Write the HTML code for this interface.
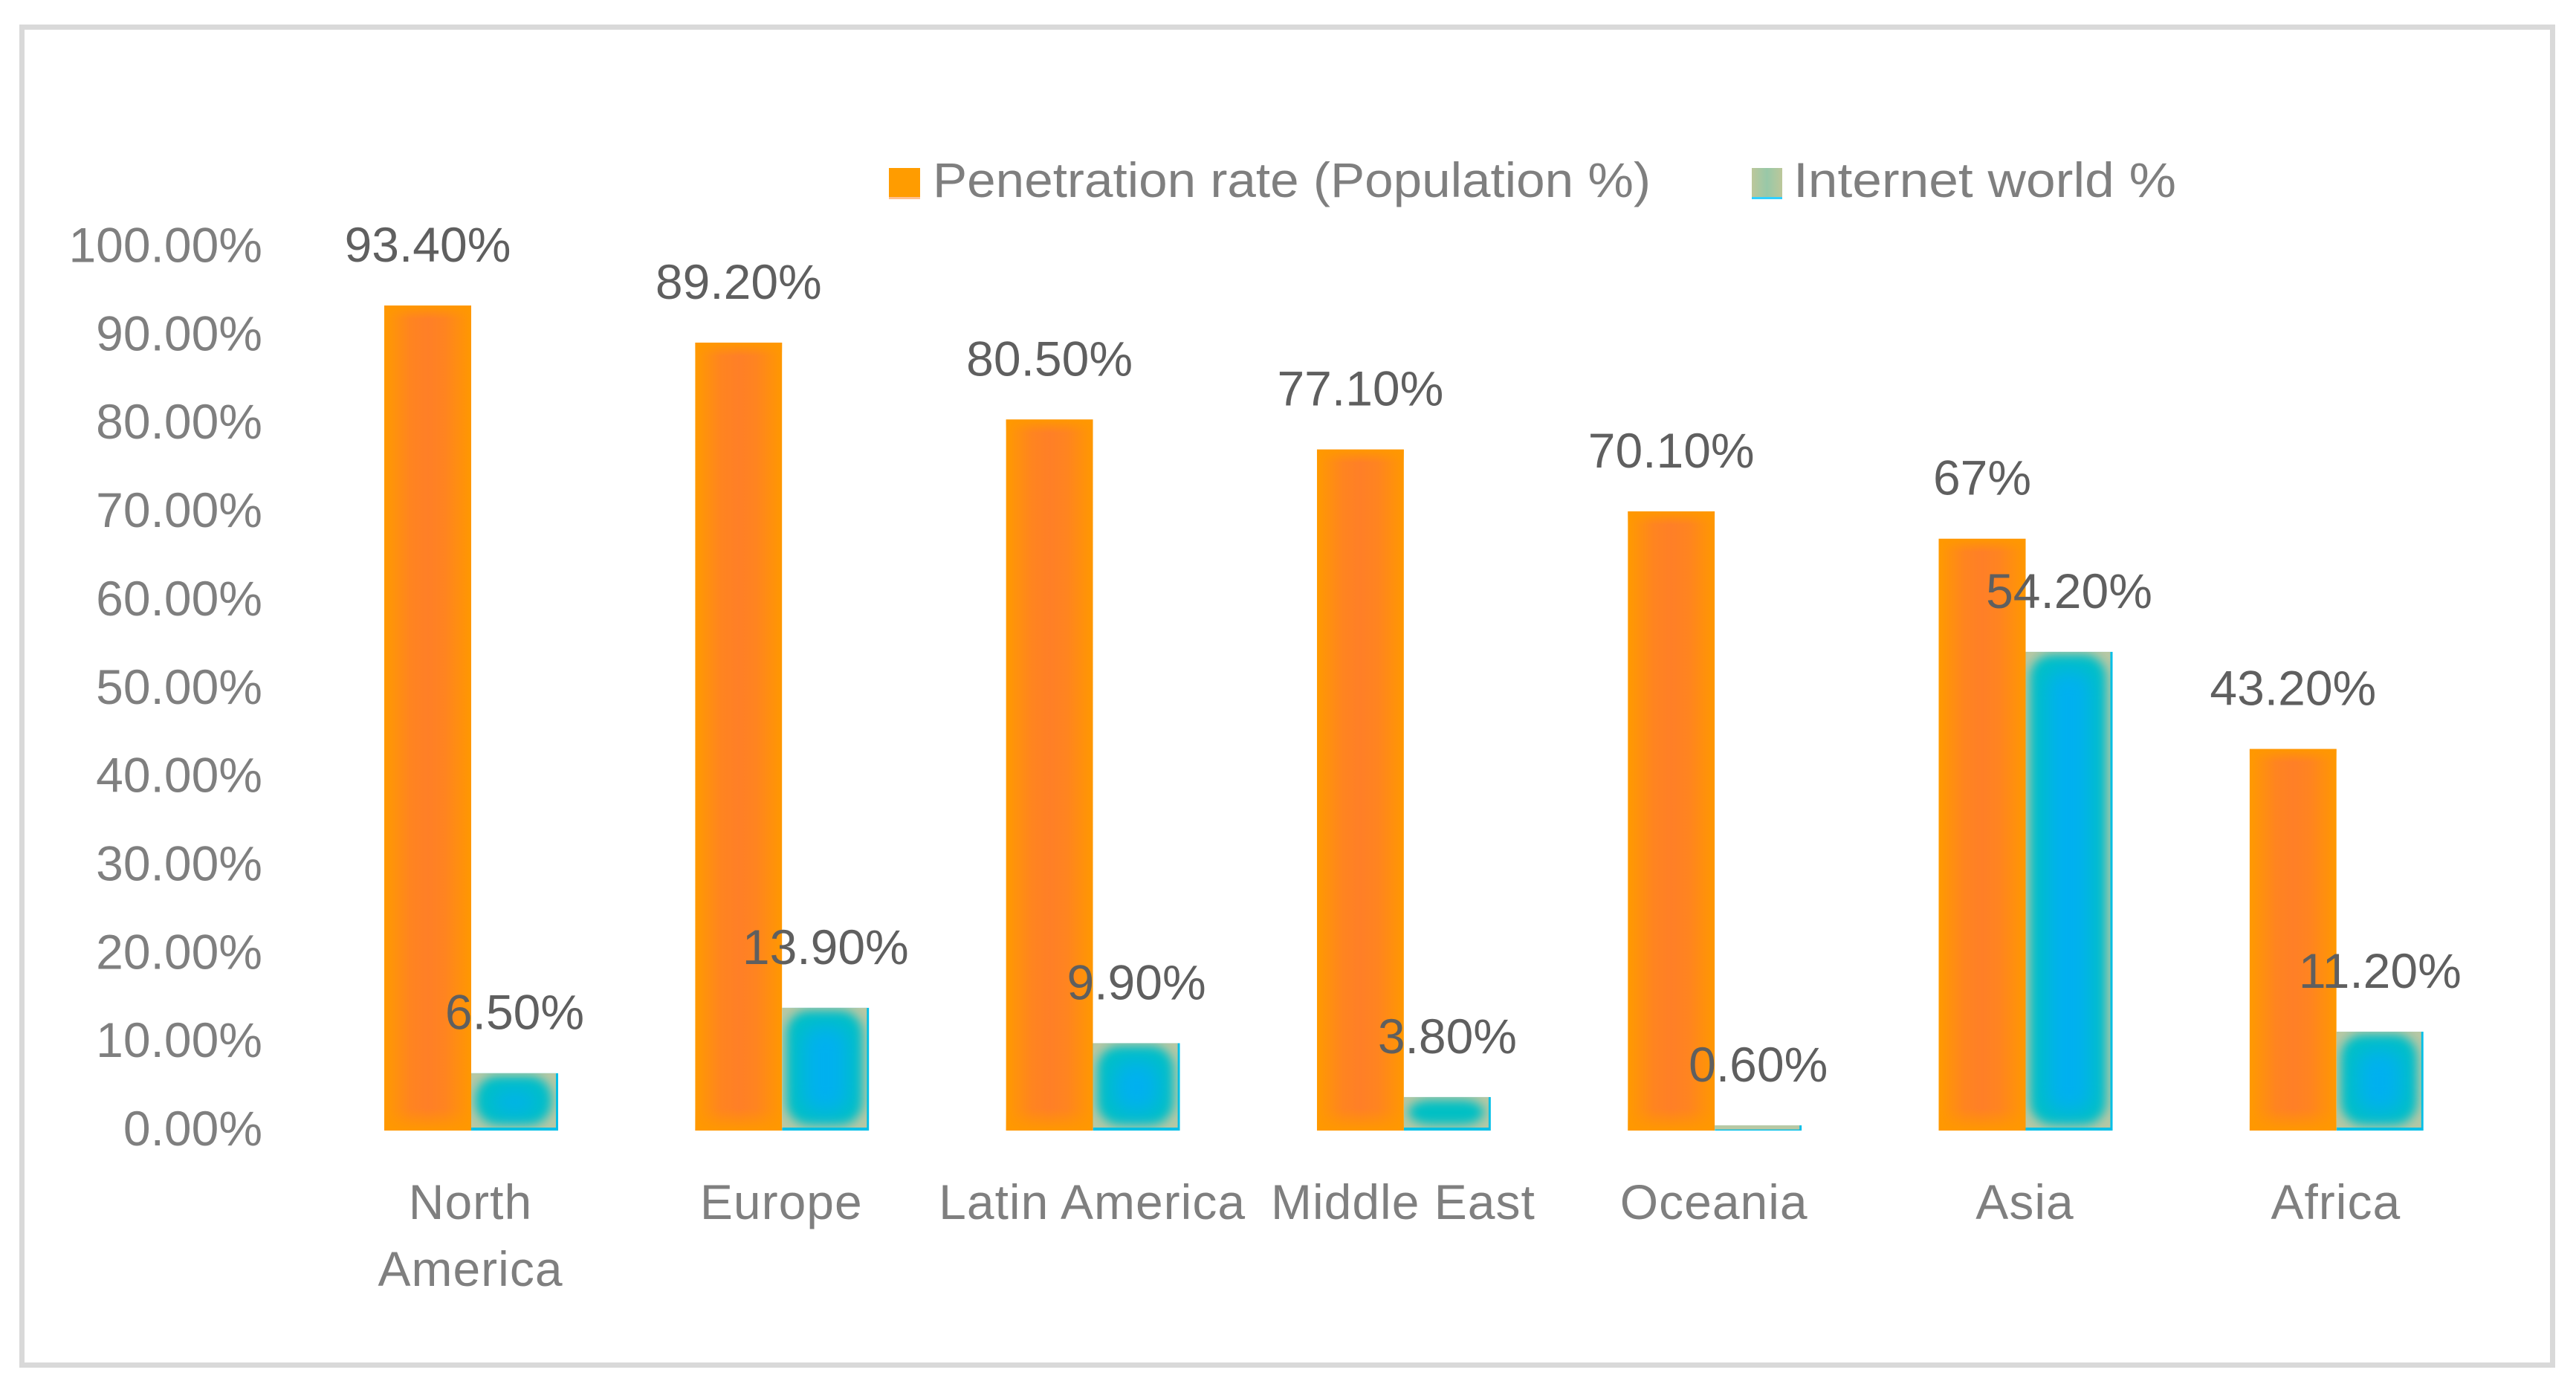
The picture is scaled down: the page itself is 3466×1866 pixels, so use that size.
<!DOCTYPE html>
<html lang="en">
<head>
<meta charset="utf-8">
<title>Internet penetration by region</title>
<style>
html,body{margin:0;padding:0;background:#fff;}
svg{display:block;font-family:"Liberation Sans",sans-serif;}
</style>
</head>
<body>
<svg id="chart" xmlns="http://www.w3.org/2000/svg" width="3466" height="1866" viewBox="0 0 3466 1866">
  <defs>
    <filter id="blur-soft" x="-60%" y="-60%" width="220%" height="220%"><feGaussianBlur stdDeviation="7"/></filter>
    <filter id="blur-wide" x="-60%" y="-60%" width="220%" height="220%"><feGaussianBlur stdDeviation="14"/></filter>
    <linearGradient id="legend-swatch-green" x1="0" y1="0" x2="1" y2="0">
      <stop offset="0" stop-color="#bcc79a"/><stop offset="0.5" stop-color="#98c8a8"/><stop offset="1" stop-color="#bcc79a"/>
    </linearGradient>
    <linearGradient id="orange-horizontal" x1="0" y1="0" x2="1" y2="0">
      <stop offset="0" stop-color="#ff9a00"/><stop offset="0.3" stop-color="#ff8420"/><stop offset="0.5" stop-color="#ff7f27"/><stop offset="0.7" stop-color="#ff8420"/><stop offset="1" stop-color="#ff9800"/>
    </linearGradient>
    <linearGradient id="orange-fade-top" x1="0" y1="0" x2="0" y2="1">
      <stop offset="0" stop-color="#ff9800"/><stop offset="1" stop-color="#ff9800" stop-opacity="0"/>
    </linearGradient>
    <linearGradient id="orange-fade-bottom" x1="0" y1="1" x2="0" y2="0">
      <stop offset="0" stop-color="#ff9800"/><stop offset="1" stop-color="#ff9800" stop-opacity="0"/>
    </linearGradient>
  </defs>
  <rect x="0" y="0" width="3466" height="1866" fill="#ffffff"/>
  <rect x="29.5" y="36.5" width="3405" height="1800" fill="none" stroke="#d9d9d9" stroke-width="7"/>

  <g>
    <g>
      <rect x="1196" y="226" width="42" height="42" fill="#ffbf8f"/>
      <rect x="1196" y="226" width="42" height="39" fill="#ff9c00"/>
      <text x="1255" y="265" font-size="66" fill="#7f7f7f" textLength="966" lengthAdjust="spacingAndGlyphs">Penetration rate (Population %)</text>
    </g>
    <g>
      <rect x="2357" y="226" width="41" height="42" fill="#30d0ff"/>
      <rect x="2357" y="226" width="41" height="39" fill="url(#legend-swatch-green)"/>
      <text x="2413" y="265" font-size="66" fill="#7f7f7f" textLength="515" lengthAdjust="spacingAndGlyphs">Internet world %</text>
    </g>
  </g>

  <g id="y-axis"></g>
  <g id="x-axis"></g>
  <g id="bars"></g>
  <g id="value-labels"></g>
</svg>
<script>
const categories = [["North", "America"], ["Europe"], ["Latin America"], ["Middle East"], ["Oceania"], ["Asia"], ["Africa"]];
const penetrationValues = [93.4, 89.2, 80.5, 77.1, 70.1, 67, 43.2];
const internetWorldValues = [6.5, 13.9, 9.9, 3.8, 0.6, 54.2, 11.2];
const penetrationLabels = ["93.40%", "89.20%", "80.50%", "77.10%", "70.10%", "67%", "43.20%"];
const internetWorldLabels = ["6.50%", "13.90%", "9.90%", "3.80%", "0.60%", "54.20%", "11.20%"];
const yTickValues = [0, 10, 20, 30, 40, 50, 60, 70, 80, 90, 100];
const yTickLabels = ["0.00%", "10.00%", "20.00%", "30.00%", "40.00%", "50.00%", "60.00%", "70.00%", "80.00%", "90.00%", "100.00%"];

const SVG_NS = "http://www.w3.org/2000/svg";
const baselineY = 1521;
const pixelsPer100 = 1188.5;
const firstCategoryX = 634;
const categoryPitch = 418.3;
const barWidth = 117;

function yScale(v) { return baselineY - v / 100 * pixelsPer100; }
function xCenter(i) { return firstCategoryX + i * categoryPitch; }

function make(tag, parent, attrs) {
  const node = document.createElementNS(SVG_NS, tag);
  for (const k in attrs) node.setAttribute(k, attrs[k]);
  parent.appendChild(node);
  return node;
}

const yAxis = document.getElementById("y-axis");
const xAxis = document.getElementById("x-axis");
const barsGroup = document.getElementById("bars");
const labelsGroup = document.getElementById("value-labels");
const defs = document.querySelector("defs");

yTickValues.forEach(function (v, i) {
  const t = make("text", yAxis, { x: 353, y: yScale(v) + 20, "font-size": 66, fill: "#7f7f7f", "text-anchor": "end" });
  
  
  t.textContent = yTickLabels[i];
});

categories.forEach(function (lines, i) {
  lines.forEach(function (line, j) {
    const t = make("text", xAxis, { x: xCenter(i) - 1, y: 1640 + j * 90, "font-size": 66, "letter-spacing": 1, fill: "#7f7f7f", "text-anchor": "middle" });
    
    
    t.textContent = line;
  });
});

function addValueLabel(text, cx, value) {
  const t = make("text", labelsGroup, { x: cx, y: yScale(value) - 59, "font-size": 66, fill: "#5f5f5f", "text-anchor": "middle" });
  
  
  t.textContent = text;
}

function addClip(id, x, y, w, h) {
  const c = make("clipPath", defs, { id: id });
  make("rect", c, { x: x, y: y, width: w, height: h });
  return "url(#" + id + ")";
}

penetrationValues.forEach(function (v, i) {
  const x = xCenter(i) - barWidth;
  const top = yScale(v);
  const h = baselineY - top;
  const g = make("g", barsGroup, { "clip-path": addClip("clip-p-" + i, x, top, barWidth, h) });
  
  
  make("rect", g, { x: x, y: top, width: barWidth, height: h, fill: "url(#orange-horizontal)" });
  make("rect", g, { x: x, y: top, width: barWidth, height: 18, fill: "url(#orange-fade-top)" });
  make("rect", g, { x: x, y: baselineY - 30, width: barWidth, height: 30, fill: "url(#orange-fade-bottom)" });
});

internetWorldValues.forEach(function (v, i) {
  const x = xCenter(i);
  const top = yScale(v);
  const h = baselineY - top;
  const g = make("g", barsGroup, { "clip-path": addClip("clip-i-" + i, x, top, barWidth, h) });
  
  
  make("rect", g, { x: x, y: top, width: barWidth, height: h, fill: "#00bfe8" });
  make("rect", g, { x: x, y: top, width: barWidth - 3, height: Math.max(h - Math.min(4, h * 0.2), 0), fill: "#b8c8a4" });
  if (h > 24) {
    make("rect", g, { x: x + 6, y: top + 4, width: barWidth - 15, height: h - 12, rx: 30, fill: "#00c0c4", filter: "url(#blur-soft)" });
  }
  if (h > 50) {
    make("rect", g, { x: x + 28, y: top + 24, width: barWidth - 56, height: h - 48, rx: 20, fill: "#00b0f0", filter: "url(#blur-wide)" });
  }
});

penetrationValues.forEach(function (v, i) {
  addValueLabel(penetrationLabels[i], xCenter(i) - barWidth / 2, v);
});
internetWorldValues.forEach(function (v, i) {
  addValueLabel(internetWorldLabels[i], xCenter(i) + barWidth / 2, v);
});
</script>
</body>
</html>
